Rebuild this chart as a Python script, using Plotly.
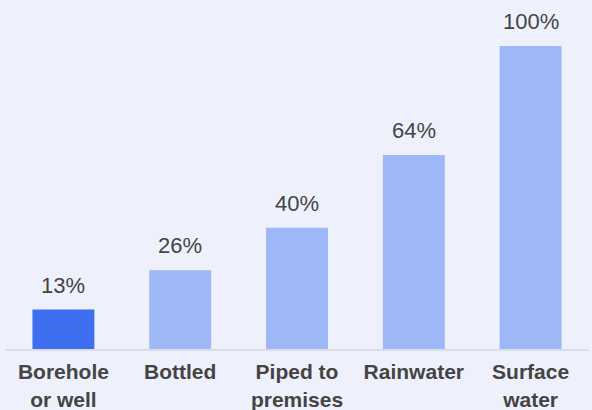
import plotly.graph_objects as go

categories = ["Borehole<br>or well", "Bottled", "Piped to<br>premises", "Rainwater", "Surface<br>water"]
values = [13, 26, 40, 64, 100]
labels = ["13%", "26%", "40%", "64%", "100%"]
colors = ["#3D6FF0", "#9DB7F7", "#9DB7F7", "#9DB7F7", "#9DB7F7"]

bg = "#EEF0FC"

fig = go.Figure(go.Bar(
    x=categories, y=values, marker=dict(color=colors, line=dict(width=0)),
    hoverinfo="skip",
))

for c, v, t in zip(categories, values, labels):
    fig.add_annotation(x=c, y=v, text=t, showarrow=False, yanchor="bottom",
                       yshift=10, font=dict(family="Liberation Sans, Arial", size=22, color="#444444"))

fig.update_layout(
    width=592, height=410,
    margin=dict(l=5, r=3, t=0, b=61),
    paper_bgcolor=bg, plot_bgcolor=bg,
    bargap=0.47,
    showlegend=False,
    xaxis=dict(showline=True, linecolor="#DCDCE4", linewidth=2, ticks="",
               showgrid=False, zeroline=False, ticklabelstandoff=3, automargin=False,
               tickfont=dict(family="Liberation Sans, Arial", size=21, color="#444444", weight="bold")),
    yaxis=dict(range=[0, 115.2], visible=False, showgrid=False, zeroline=False, automargin=False),
)

fig.write_html("out.html")
